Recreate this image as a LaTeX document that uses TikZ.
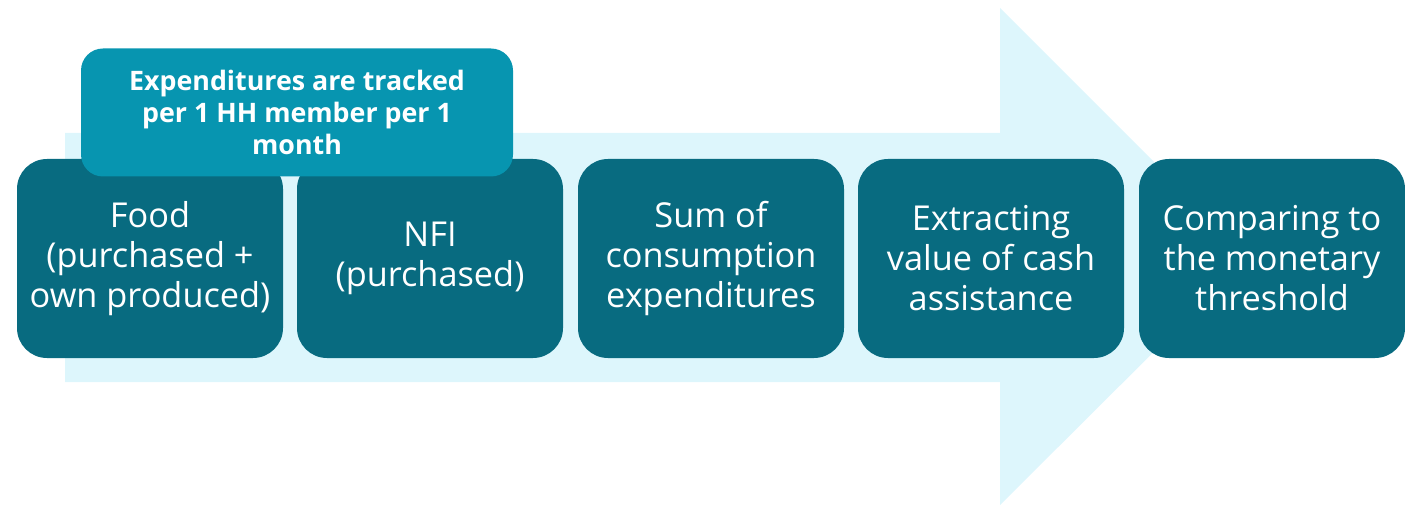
\documentclass[tikz,border=0pt]{standalone}
\usepackage{fontspec}
\setmainfont{Open Sans}
\definecolor{darkteal}{HTML}{086B80}
\definecolor{callteal}{HTML}{0795B0}
\definecolor{lightarrow}{HTML}{DDF6FC}
\begin{document}
\begin{tikzpicture}[x=1pt,y=-1pt,
  stepbox/.style={fill=darkteal, rounded corners=30pt, minimum width=266pt, minimum height=199pt,
    text=white, align=center, inner sep=0pt, font=\fontsize{34.3}{40}\selectfont},
  callbox/.style={fill=callteal, rounded corners=22pt, minimum width=432pt, minimum height=128pt,
    text=white, align=center, inner sep=0pt, font=\fontsize{26.8}{32}\selectfont\bfseries}]
\useasboundingbox (0,0) rectangle (1405,505);
% big background arrow
\fill[lightarrow] (65,133) -- (1000,133) -- (1000,8) -- (1249,257) -- (1000,505) -- (1000,382) -- (65,382) -- cycle;
% step boxes
\node[stepbox] (food) at (150,258.5) {Food\\(purchased +\\own produced)};
\node[stepbox] (nfi) at (430,258.5) {NFI\\(purchased)};
\node[stepbox] (sum) at (711,258.5) {Sum of\\consumption\\expenditures};
\node[stepbox] (extr) at (991,258.5) {Extracting\\value of cash\\assistance};
\node[stepbox] (comp) at (1272,258.5) {Comparing to\\the monetary\\threshold};
% callout
\node[callbox] (note) at (297,112.5) {Expenditures are tracked\\per 1 HH member per 1\\month};
\end{tikzpicture}
\end{document}
